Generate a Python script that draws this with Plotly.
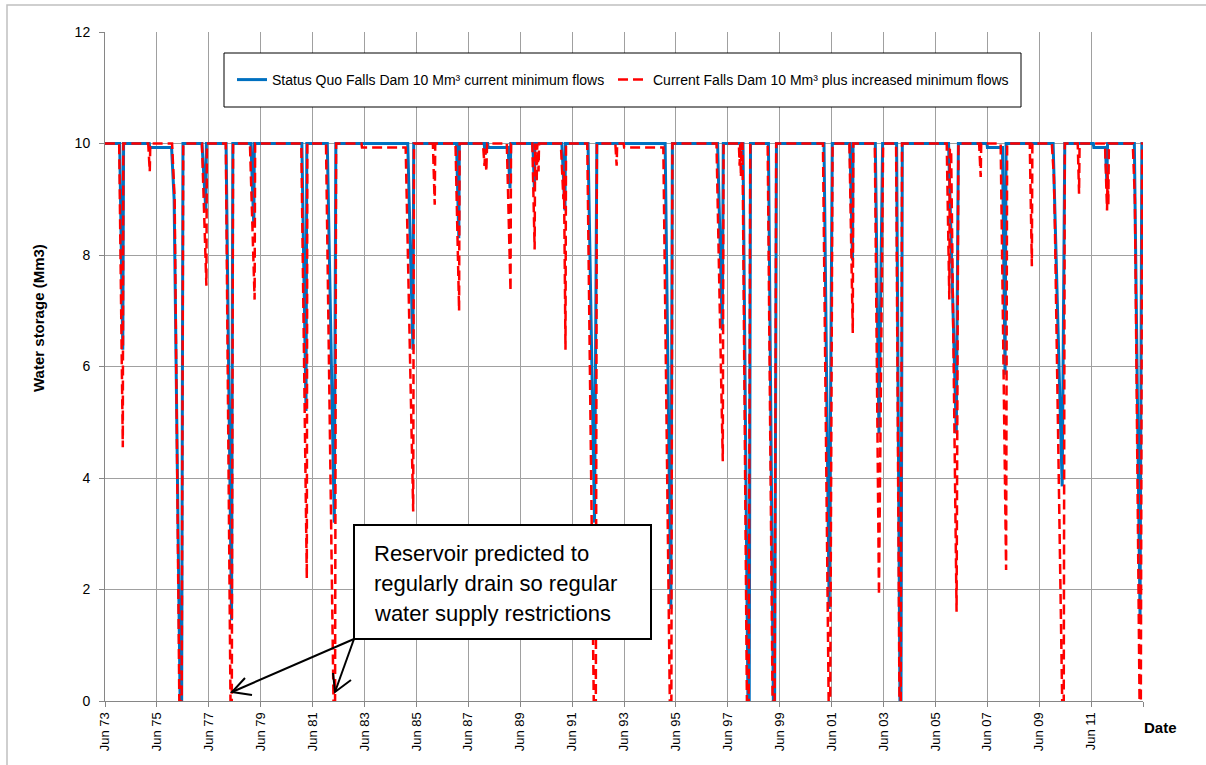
import datetime as dt
import plotly.graph_objects as go

# ---------------- data ----------------
# decimal years and storage (Mm3) breakpoints
BLUE_YEARS = [1973.41,
              1973.98, 1974.10, 1974.13,
              1975.12, 1975.14, 1975.98, 1976.08, 1976.31, 1976.37, 1976.42,
              1977.15, 1977.30, 1977.32,
              1978.08, 1978.29, 1978.34,
              1979.04, 1979.15, 1979.17,
              1981.00, 1981.16, 1981.19,
              1981.98, 1982.25, 1982.31,
              1985.08, 1985.28, 1985.31,
              1986.96, 1987.05, 1987.07,
              1988.03, 1988.06, 1988.08, 1988.16, 1988.18, 1988.95, 1989.02, 1989.05,
              1989.90, 1989.96, 1989.98,
              1991.02, 1991.14, 1991.16,
              1992.03, 1992.28, 1992.37,
              1995.00, 1995.22, 1995.28,
              1997.02, 1997.20, 1997.24,
              1998.00, 1998.19, 1998.24, 1998.29,
              1998.98, 1999.17, 1999.22, 1999.29,
              2001.12, 2001.32, 2001.44,
              2002.12, 2002.22, 2002.24,
              2003.10, 2003.24, 2003.38,
              2003.92, 2004.05, 2004.09, 2004.14,
              2005.92, 2006.22, 2006.30,
              2007.40, 2007.42, 2008.00, 2008.10, 2008.14,
              2009.95, 2010.30, 2010.40,
              2011.50, 2011.52, 2011.97, 2012.02, 2012.05,
              2013.08, 2013.30, 2013.37, 2013.41]
BLUE_VALUES = [10,
               10, 6.3, 10,
               10, 9.93, 9.93, 9.0, 0, 0, 10,
               10, 8.8, 10,
               10, 1.45, 10,
               10, 8.5, 10,
               10, 5.2, 10,
               10, 3.2, 10,
               10, 6.3, 10,
               10, 8.3, 10,
               10, 9.8, 10, 10, 9.93, 9.93, 9.2, 10,
               10, 9.2, 10,
               10, 8.8, 10,
               10, 3.2, 10,
               10, 1.65, 10,
               10, 6.65, 10,
               10, 0, 0, 10,
               10, 0, 0, 10,
               10, 1.65, 10,
               10, 7.9, 10,
               10, 4.8, 10,
               10, 0, 0, 10,
               10, 4.8, 10,
               10, 9.93, 9.93, 5.85, 10,
               10, 3.85, 10,
               10, 9.93, 9.93, 9.3, 10,
               10, 1.5, 10, 10]

RED_YEARS = [1973.41,
             1973.96, 1974.10, 1974.12,
             1975.08, 1975.14, 1975.16,
             1976.00, 1976.10, 1976.28, 1976.37, 1976.43,
             1977.15, 1977.32, 1977.34,
             1978.07, 1978.25, 1978.30, 1978.35,
             1979.00, 1979.18, 1979.20,
             1980.98, 1981.19, 1981.21,
             1981.93, 1982.22, 1982.28, 1982.32,
             1983.30, 1983.32, 1985.00, 1985.29, 1985.32,
             1986.05, 1986.12, 1986.14,
             1986.92, 1987.06, 1987.08,
             1987.98, 1988.04, 1988.07, 1988.11, 1988.14,
             1988.90, 1989.04, 1989.06,
             1989.88, 1989.97, 1989.99, 1990.05, 1990.07, 1990.12, 1990.14,
             1990.98, 1991.08, 1991.10, 1991.16, 1991.18,
             1992.00, 1992.25, 1992.33, 1992.37,
             1993.08, 1993.13, 1993.15, 1993.40, 1993.42, 1994.93,
             1995.18, 1995.24, 1995.28,
             1996.98, 1997.22, 1997.25,
             1997.84, 1997.87, 1997.89, 1997.92, 1997.94, 1997.98, 1998.15, 1998.22, 1998.28,
             1998.95, 1999.14, 1999.22, 1999.28,
             2001.08, 2001.30, 2001.36, 2001.45,
             2002.10, 2002.23, 2002.25,
             2003.08, 2003.24, 2003.40,
             2003.90, 2004.03, 2004.08, 2004.13,
             2005.85, 2005.95, 2005.97, 2006.02, 2006.23, 2006.30,
             2007.10, 2007.16, 2007.18,
             2007.93, 2008.14, 2008.18,
             2009.05, 2009.13, 2009.15,
             2009.90, 2009.98, 2010.02, 2010.30, 2010.36, 2010.40,
             2010.90, 2010.95, 2010.97,
             2011.95, 2012.03, 2012.05, 2012.08, 2012.10,
             2013.02, 2013.10, 2013.28, 2013.33, 2013.38, 2013.41]
RED_VALUES = [10,
              10, 4.55, 10,
              10, 9.5, 10,
              10, 9.0, 0, 0, 10,
              10, 7.45, 10,
              10, 0, 0, 10,
              10, 7.2, 10,
              10, 2.2, 10,
              10, 0, 0, 10,
              10, 9.93, 9.93, 3.4, 10,
              10, 8.9, 10,
              10, 7.0, 10,
              10, 9.6, 9.9, 9.5, 10,
              10, 7.35, 10,
              10, 8.1, 10, 9.3, 10, 9.5, 10,
              10, 9.0, 9.5, 6.3, 10,
              10, 0, 0, 10,
              10, 9.6, 10, 10, 9.93, 9.93,
              0, 0, 10,
              10, 4.3, 10,
              10, 9.6, 10, 9.4, 10, 10, 0, 0, 10,
              10, 0, 0, 10,
              10, 0, 0, 10,
              10, 6.6, 10,
              10, 1.9, 10,
              10, 0, 0, 10,
              10, 7.2, 9.9, 9.9, 1.6, 10,
              10, 9.4, 10,
              10, 2.35, 10,
              10, 7.8, 10,
              10, 9.4, 8.5, 0, 0, 10,
              10, 9.1, 10,
              10, 8.8, 9.5, 8.9, 10,
              10, 9.0, 0, 0, 10, 10]

TICK_YEARS = list(range(1973, 2014, 2))
TICK_LABELS = ["Jun %02d" % (y % 100) for y in range(1973, 2012, 2)] + [""]

BLUE_NAME = "Status Quo Falls Dam 10 Mm³ current minimum flows"
RED_NAME = "Current Falls Dam 10 Mm³ plus increased minimum flows"
NOTE_LINES = ["Reservoir predicted to", "regularly drain so regular", "water supply restrictions"]


def to_date(d):
    y = int(d)
    return dt.datetime(y, 1, 1) + dt.timedelta(days=(d - y) * 365.25)


blue_x = [to_date(v) for v in BLUE_YEARS]
red_x = [to_date(v) for v in RED_YEARS]
tick_vals = [dt.datetime(y, 6, 1) for y in TICK_YEARS]

# ---------------- layout helpers (pixel -> paper) ----------------
W, H = 1206, 765
PL, PR, PT, PB = 105, 1143, 32, 701


def px(x):
    return (x - PL) / (PR - PL)


def py(y):
    return (PB - y) / (PB - PT)


FONT = "Liberation Sans, Arial, sans-serif"

fig = go.Figure()
fig.add_trace(go.Scatter(x=blue_x, y=BLUE_VALUES, mode="lines", name=BLUE_NAME,
                         legend="legend",
                         line=dict(color="#0070C0", width=3)))
fig.add_trace(go.Scatter(x=red_x, y=RED_VALUES, mode="lines", name=RED_NAME,
                         legend="legend2",
                         line=dict(color="#FF0000", width=2.5, dash="10px,5px")))

shapes = []
# outer chart frame
shapes.append(dict(type="rect", xref="paper", yref="paper",
                   x0=px(7), x1=px(1230), y0=py(790), y1=py(5),
                   line=dict(color="#c0c0c0", width=1.5), fillcolor="rgba(0,0,0,0)",
                   layer="below"))
# legend box
shapes.append(dict(type="rect", xref="paper", yref="paper",
                   x0=px(224), x1=px(1021), y0=py(107), y1=py(53),
                   line=dict(color="#000000", width=1), fillcolor="white", layer="above"))
# annotation box
shapes.append(dict(type="rect", xref="paper", yref="paper",
                   x0=px(354), x1=px(651), y0=py(639), y1=py(525),
                   line=dict(color="#000000", width=2), fillcolor="white", layer="above"))


def seg(p):
    return "M " + " L ".join("%.5f,%.5f" % (px(a), py(b)) for a, b in p)


for path in [
    [(354, 639), (232, 692)],
    [(245, 678), (232, 692), (252, 695)],
    [(354, 639), (335, 692)],
    [(333, 673), (335, 692), (351, 680)],
]:
    shapes.append(dict(type="path", xref="paper", yref="paper", path=seg(path),
                       line=dict(color="#000000", width=2), layer="above"))

annotations = []
for i, t in enumerate(NOTE_LINES):
    annotations.append(dict(xref="paper", yref="paper", x=px(372), y=py(553 + 30 * i),
                            xanchor="left", yanchor="middle", text=t, showarrow=False,
                            font=dict(family=FONT, size=22, color="#000000")))
annotations.append(dict(xref="paper", yref="paper", x=px(38), y=py(318),
                        text="Water storage (Mm3)", textangle=-90, showarrow=False,
                        xanchor="center", yanchor="middle",
                        font=dict(family=FONT, size=15, color="#000000", weight="bold")))
annotations.append(dict(xref="paper", yref="paper", x=px(1160), y=py(727),
                        text="Date", showarrow=False, xanchor="center", yanchor="middle",
                        font=dict(family=FONT, size=15, color="#000000", weight="bold")))

legend_common = dict(orientation="h", y=py(80), xanchor="left", yanchor="middle",
                     bgcolor="rgba(0,0,0,0)", borderwidth=0,
                     font=dict(family=FONT, size=14, color="#000000"))

fig.update_layout(
    width=W, height=H, autosize=False,
    margin=dict(l=PL, r=W - PR, t=PT, b=H - PB, pad=0),
    paper_bgcolor="white", plot_bgcolor="white",
    font=dict(family=FONT, color="#000000"),
    showlegend=True,
    legend=dict(x=px(232), **legend_common),
    legend2=dict(x=px(613), **legend_common),
    shapes=shapes,
    annotations=annotations,
    xaxis=dict(type="date", range=[dt.datetime(1973, 6, 1), dt.datetime(2013, 6, 1)],
               tickmode="array", tickvals=tick_vals, ticktext=TICK_LABELS,
               tickangle=-90, ticks="outside", ticklen=5, tickcolor="#868686",
               showgrid=True, gridcolor="#a0a0a0", gridwidth=1,
               showline=True, linecolor="#868686", linewidth=1,
               zeroline=False, tickfont=dict(family=FONT, size=13, color="#000000")),
    yaxis=dict(range=[0, 12], dtick=2, tick0=0, ticks="outside", ticklen=5,
               tickcolor="#868686", showgrid=True, gridcolor="#a0a0a0", gridwidth=1,
               showline=True, linecolor="#868686", linewidth=1, zeroline=False,
               ticklabelstandoff=6,
               tickfont=dict(family=FONT, size=14, color="#000000")),
)

fig.write_html("out.html", config={"displayModeBar": False},
               post_script="document.body.style.margin='0';")
